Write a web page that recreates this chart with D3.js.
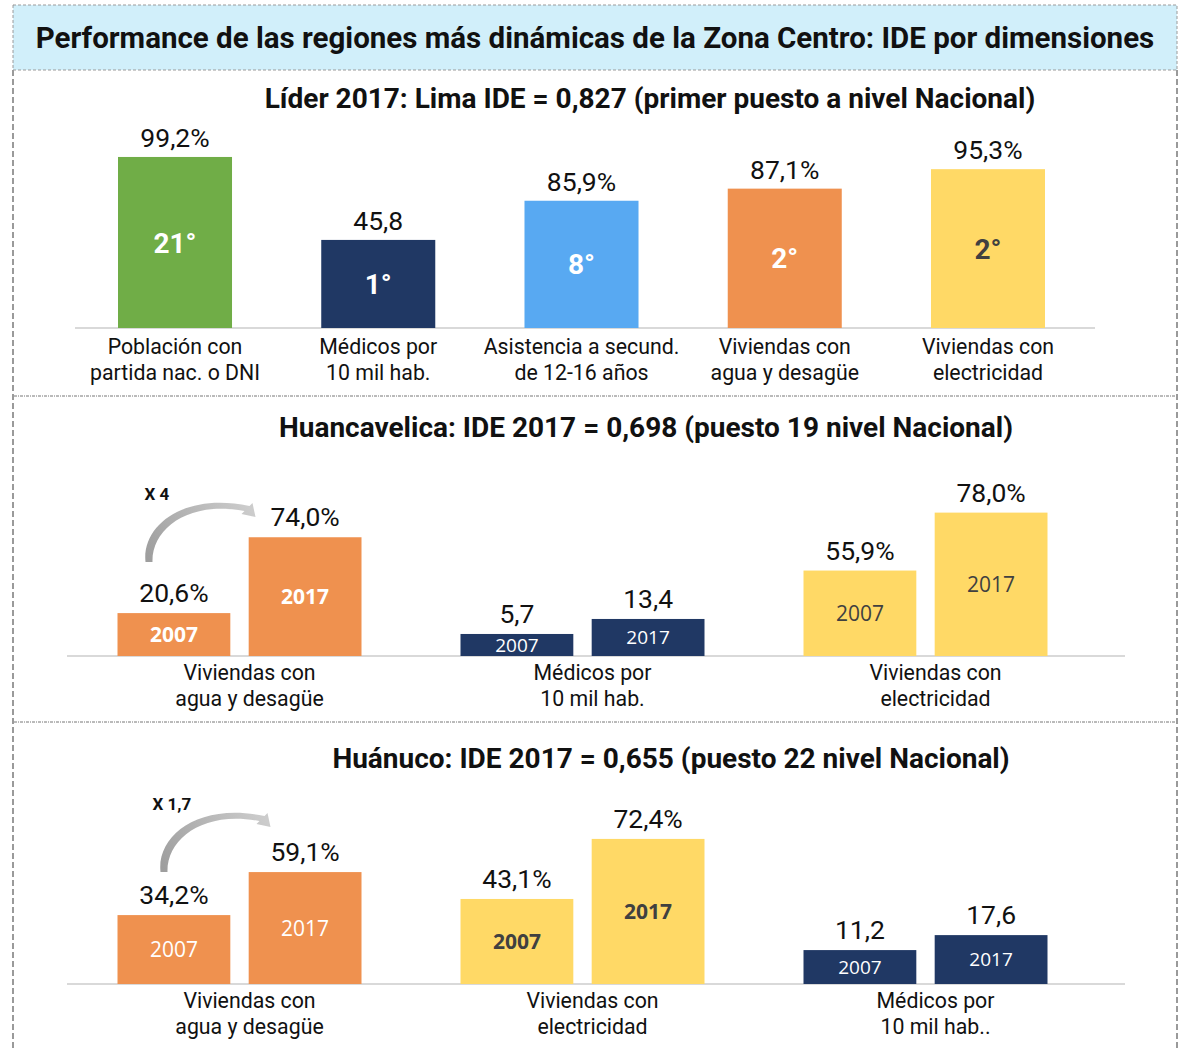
<!DOCTYPE html>
<html>
<head>
<meta charset="utf-8">
<script src="https://cdn.jsdelivr.net/npm/d3@7"></script>
<style>
  body { margin: 0; background: #fff; }
  svg { display: block; font-family: Roboto, "Open Sans", sans-serif; }
</style>
</head>
<body>
<svg id="chart" width="1188" height="1051"></svg>
<script>
// ---- data ----
var titleText = "Performance de las regiones más dinámicas de la Zona Centro: IDE por dimensiones";

// panel 1: Lima
var limaTitle = "Líder 2017: Lima IDE = 0,827 (primer puesto a nivel Nacional)";
var limaCats = [["Población con", "partida nac. o DNI"], ["Médicos por", "10 mil hab."],
    ["Asistencia a secund.", "de 12-16 años"], ["Viviendas con", "agua y desagüe"], ["Viviendas con", "electricidad"]];
var limaValues = [99.2, 45.8, 85.9, 87.1, 95.3];
var limaIsPct = [true, false, true, true, true];
var limaRanks = ["21°", "1°", "8°", "2°", "2°"];
var limaAxisMax = [116, 104, 135, 125, 120];   // each bar had its own axis

// panel 2: Huancavelica
var hvTitle = "Huancavelica: IDE 2017 = 0,698 (puesto 19 nivel Nacional)";
var hvCats = [["Viviendas con", "agua y desagüe"], ["Médicos por", "10 mil hab."], ["Viviendas con", "electricidad"]];
var hv2007 = [20.6, 5.7, 55.9];
var hv2017 = [74.0, 13.4, 78.0];
var hvIsPct = [true, false, true];
var hvAxis = [[-9.6, 131.2], [-5.6, 97], [23.3, 99.6]];

// panel 3: Huánuco
var hnTitle = "Huánuco: IDE 2017 = 0,655 (puesto 22 nivel Nacional)";
var hnCats = [["Viviendas con", "agua y desagüe"], ["Viviendas con", "electricidad"], ["Médicos por", "10 mil hab.."]];
var hn2007 = [34.2, 43.1, 11.2];
var hn2017 = [59.1, 72.4, 17.6];
var hnIsPct = [true, true, false];
var hnAxis = [[-5.7, 110.1], [1.6, 99.2], [-3.3, 82.2]];

var years = ["2007", "2017"];

// ---- styles ----
var green = "#70AD47", navy = "#203864", blue = "#58A9F2", orange = "#EF914F", yellow = "#FFD966";
var dark = "#404040";

var locale = d3.formatLocale({ decimal: ",", thousands: ".", grouping: [3], currency: ["", ""] });
var fmt = locale.format(".1f");
function label(v, pct) { return fmt(v) + (pct ? "%" : ""); }

var svg = d3.select("#chart");
var defs = svg.append("defs");

// frame
svg.append("rect").attr("x", 13).attr("y", 5).attr("width", 1164).attr("height", 65)
    .attr("fill", "#D1EFFA").attr("stroke", "#9a9a9a").attr("stroke-dasharray", "3,2");
svg.append("text").attr("x", 595).attr("y", 48).attr("text-anchor", "middle")
    .style("font-size", "29.5px").style("font-weight", "bold").attr("fill", "#111").text(titleText);
[13, 1177].forEach(function (x) {
    svg.append("line").attr("x1", x).attr("x2", x).attr("y1", 70).attr("y2", 1051)
        .attr("stroke", "#9a9a9a").attr("stroke-width", 2).attr("stroke-dasharray", "6,3");
});
[396, 722].forEach(function (y) {
    svg.append("line").attr("x1", 14).attr("x2", 1176).attr("y1", y).attr("y2", y)
        .attr("stroke", "#777").attr("stroke-width", 1).attr("stroke-dasharray", "3,1,1,1");
});

function catLabel(g, x, y, lines) {
    var t = g.append("text").attr("x", x).attr("y", y).attr("text-anchor", "middle")
        .style("font-size", "21.3px").attr("fill", "#111");
    lines.forEach(function (l, i) {
        t.append("tspan").attr("x", x).attr("dy", i ? 26 : 0).text(l);
    });
}

// ---- panel 1 ----
(function () {
    var g = svg.append("g");
    var bottom = 328, H = 200;
    var colors = [green, navy, blue, orange, yellow];
    var rankColor = ["#fff", "#fff", "#fff", "#fff", dark];
    g.append("text").attr("x", 650).attr("y", 108).attr("text-anchor", "middle")
        .style("font-size", "28px").style("font-weight", "bold").attr("fill", "#111").text(limaTitle);

    var x = d3.scaleBand().domain(d3.range(limaValues.length)).range([118, 1045]).paddingInner(0.439);
    g.append("line").attr("x1", 75).attr("x2", 1095).attr("y1", bottom).attr("y2", bottom)
        .attr("stroke", "#d9d9d9").attr("stroke-width", 2);

    limaValues.forEach(function (v, i) {
        var y = d3.scaleLinear().domain([0, limaAxisMax[i]]).range([bottom, bottom - H]);
        var bx = x(i), bw = x.bandwidth(), cx = bx + bw / 2;
        g.append("rect").attr("x", bx).attr("y", y(v)).attr("width", bw).attr("height", bottom - y(v))
            .attr("fill", colors[i]);
        g.append("text").attr("x", cx).attr("y", y(v) - 10).attr("text-anchor", "middle")
            .style("font-size", "26.5px").attr("fill", "#111").text(label(v, limaIsPct[i]));
        g.append("text").attr("x", cx).attr("y", (y(v) + bottom) / 2).attr("dy", "0.36em")
            .attr("text-anchor", "middle").style("font-size", "28px").style("font-weight", "bold")
            .attr("fill", rankColor[i]).text(limaRanks[i]);
        catLabel(g, cx, 354, limaCats[i]);
    });
})();

// ---- paired panels ----
function pairPanel(opt) {
    var g = svg.append("g");
    var bottom = opt.bottom, H = 200;
    g.append("text").attr("x", opt.titleX).attr("y", opt.titleY).attr("text-anchor", "middle")
        .style("font-size", "28px").style("font-weight", "bold").attr("fill", "#111").text(opt.title);

    var x0 = d3.scaleBand().domain(d3.range(opt.cats.length)).range([68, 1097]);
    var x1 = d3.scaleBand().domain(years).range([0, 244]).paddingInner(0.14);
    g.append("line").attr("x1", 67).attr("x2", 1125).attr("y1", bottom).attr("y2", bottom)
        .attr("stroke", "#d9d9d9").attr("stroke-width", 2);

    opt.cats.forEach(function (c, i) {
        var y = d3.scaleLinear().domain(opt.axis[i]).range([bottom, bottom - H]);
        var gx = x0(i) + x0.bandwidth() / 2 - 122;
        var st = opt.styles[i];
        [opt.v2007[i], opt.v2017[i]].forEach(function (v, j) {
            var bx = gx + x1(years[j]), bw = x1.bandwidth(), cx = bx + bw / 2;
            g.append("rect").attr("x", bx).attr("y", y(v)).attr("width", bw).attr("height", bottom - y(v))
                .attr("fill", st.color);
            g.append("text").attr("x", cx).attr("y", y(v) - 11).attr("text-anchor", "middle")
                .style("font-size", "26.5px").attr("fill", "#111").text(label(v, opt.isPct[i]));
            g.append("text").attr("x", cx).attr("y", (y(v) + bottom) / 2).attr("dy", "0.36em")
                .attr("text-anchor", "middle").style("font-family", "'Open Sans', sans-serif")
                .style("font-size", st.size + "px").style("font-weight", st.bold ? "bold" : "normal")
                .attr("fill", st.text).text(years[j]);
        });
        catLabel(g, gx + 132, bottom + 24, c);
        if (i === 0) {
            var ax = gx + opt.arrowDx, ay = y(opt.v2007[0]) - opt.arrowDy;
            arrow(g, ax, ay, opt.id);
            g.append("text").attr("x", ax + opt.textDx).attr("y", ay - 62).style("font-size", "17px")
                .style("font-weight", "bold").attr("fill", "#111").text(opt.factor);
        }
    });
}

function arrow(g, x, y, id) {
    var grad = defs.append("linearGradient").attr("id", "ag" + id)
        .attr("gradientUnits", "userSpaceOnUse")
        .attr("x1", x).attr("y1", y).attr("x2", x + 100).attr("y2", y - 55);
    grad.append("stop").attr("offset", "0%").attr("stop-color", "#9e9e9e");
    grad.append("stop").attr("offset", "100%").attr("stop-color", "#cccccc");
    var p = d3.path();
    p.moveTo(x - 4, y);
    p.bezierCurveTo(x - 8, y - 37, x + 35, y - 70, x + 100, y - 56);
    p.lineTo(x + 103, y - 59);
    p.lineTo(x + 106, y - 45);
    p.lineTo(x + 92, y - 48);
    p.lineTo(x + 95, y - 51);
    p.bezierCurveTo(x + 40, y - 62, x + 2, y - 34, x + 3, y);
    p.closePath();
    g.append("path").attr("d", p.toString()).attr("fill", "url(#ag" + id + ")");
}

pairPanel({
    id: 2, title: hvTitle, titleX: 646, titleY: 437, bottom: 656,
    cats: hvCats, v2007: hv2007, v2017: hv2017, isPct: hvIsPct, axis: hvAxis,
    factor: "X 4", arrowDx: 32, arrowDy: 51, textDx: -5,
    styles: [
        { color: orange, text: "#fff", bold: true, size: 21 },
        { color: navy, text: "#fff", bold: false, size: 19 },
        { color: yellow, text: dark, bold: false, size: 21 }
    ]
});

pairPanel({
    id: 3, title: hnTitle, titleX: 671, titleY: 768, bottom: 984,
    cats: hnCats, v2007: hn2007, v2017: hn2017, isPct: hnIsPct, axis: hnAxis,
    factor: "X 1,7", arrowDx: 47, arrowDy: 43, textDx: -12,
    styles: [
        { color: orange, text: "#fff", bold: false, size: 21 },
        { color: yellow, text: dark, bold: true, size: 21 },
        { color: navy, text: "#fff", bold: false, size: 19 }
    ]
});
</script>
</body>
</html>
